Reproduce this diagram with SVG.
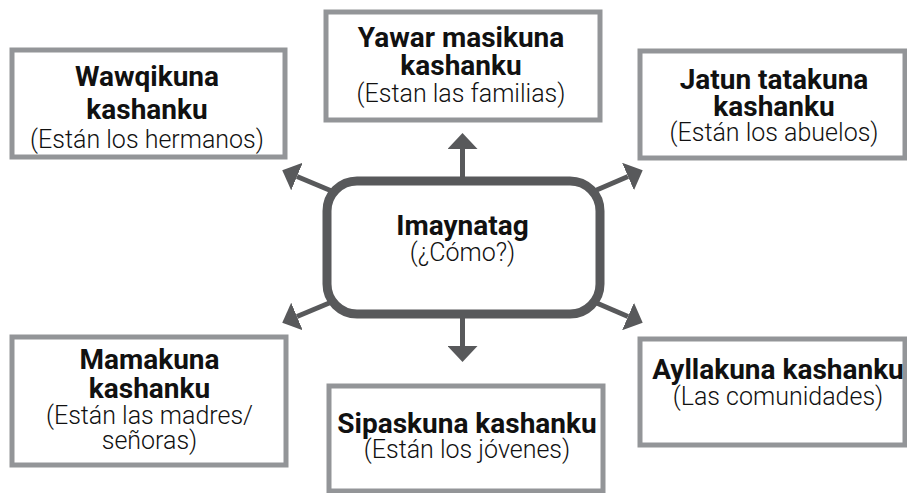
<svg xmlns="http://www.w3.org/2000/svg" width="907" height="493" viewBox="0 0 907 493">
<defs>
<marker id="ah" viewBox="0 -15 16 30" refX="0" refY="0" markerWidth="16" markerHeight="30" markerUnits="userSpaceOnUse" orient="auto">
<path d="M0,-15 L16,0 L0,15 Z" fill="#58595b"/>
</marker>
<style>
.box{fill:#fff;stroke:#939598;stroke-width:5}
.hub{fill:#fff;stroke:#58595b;stroke-width:9}
.con{stroke:#58595b;stroke-width:5;fill:none;marker-end:url(#ah)}
text{font-family:Roboto,"Open Sans","Liberation Sans",sans-serif;text-anchor:middle;fill:#111}
.b{font-weight:700;font-size:28px}
.r{font-weight:300;font-size:25px}
</style>
</defs>
<rect width="907" height="493" fill="#fff"/>
<g id="connectors">
<line class="con" x1="462.5" y1="185" x2="462.5" y2="149"/>
<line class="con" x1="462.5" y1="310" x2="462.5" y2="346"/>
<line class="con" x1="334" y1="192" x2="297" y2="176.5"/>
<line class="con" x1="592" y1="192" x2="628" y2="176.5"/>
<line class="con" x1="334" y1="301" x2="297" y2="316.5"/>
<line class="con" x1="592" y1="301" x2="628" y2="316.5"/>
</g>
<g id="hub">
<rect class="hub" x="327" y="181" width="273" height="133" rx="30"/>
<text class="b" x="462.5" y="235">Imaynatag</text>
<text class="r" x="462.5" y="261">(¿Cómo?)</text>
</g>
<g id="wawqikuna">
<rect class="box" x="12" y="50" width="273" height="107"/>
<text class="b" x="147" y="86">Wawqikuna</text>
<text class="b" x="147" y="119">kashanku</text>
<text class="r" x="147" y="148">(Están los hermanos)</text>
</g>
<g id="yawar">
<rect class="box" x="326" y="12" width="274" height="108"/>
<text class="b" x="461" y="47">Yawar masikuna</text>
<text class="b" x="461" y="75">kashanku</text>
<text class="r" x="461" y="102">(Estan las familias)</text>
</g>
<g id="jatun">
<rect class="box" x="640" y="51" width="265" height="107"/>
<text class="b" x="774" y="89">Jatun tatakuna</text>
<text class="b" x="774" y="116">kashanku</text>
<text class="r" x="774" y="141">(Están los abuelos)</text>
</g>
<g id="mamakuna">
<rect class="box" x="12" y="337" width="274" height="128"/>
<text class="b" x="149.5" y="369">Mamakuna</text>
<text class="b" x="149.5" y="398">kashanku</text>
<text class="r" x="149.5" y="424">(Están las madres/</text>
<text class="r" x="149.5" y="449">señoras)</text>
</g>
<g id="sipaskuna">
<rect class="box" x="329" y="386" width="274" height="105"/>
<text class="b" x="467" y="433">Sipaskuna kashanku</text>
<text class="r" x="467" y="458">(Están los jóvenes)</text>
</g>
<g id="ayllakuna">
<rect class="box" x="640" y="339" width="265" height="106"/>
<text class="b" x="778" y="379">Ayllakuna kashanku</text>
<text class="r" x="778" y="405">(Las comunidades)</text>
</g>
</svg>
